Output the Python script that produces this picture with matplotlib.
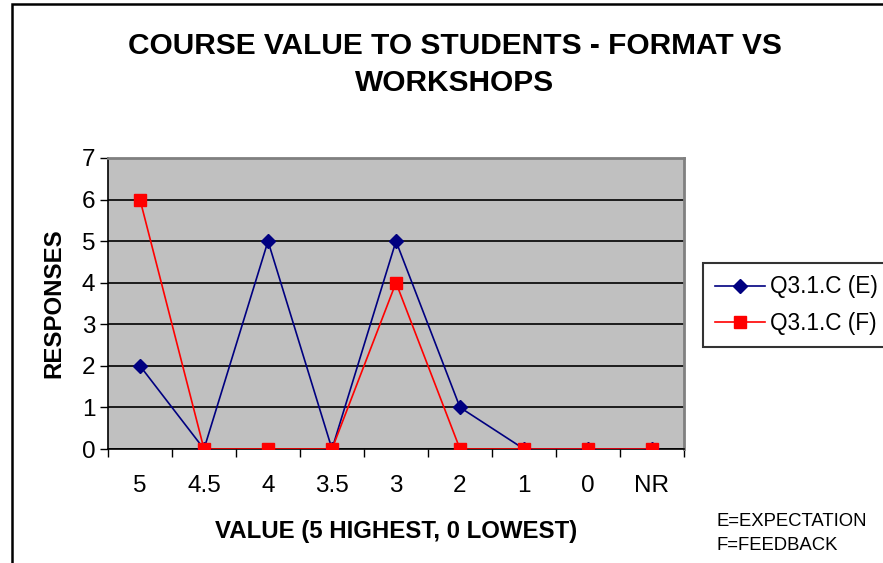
import matplotlib.pyplot as plt
from matplotlib.patches import Rectangle
import numpy as np

plt.rcParams['font.family'] = ['Liberation Sans', 'DejaVu Sans']

# data
categories = ["5", "4.5", "4", "3.5", "3", "2", "1", "0", "NR"]
expectation = [2, 0, 5, 0, 5, 1, 0, 0, 0]
feedback = [6, 0, 0, 0, 4, 0, 0, 0, 0]

x = np.arange(len(categories))

fig = plt.figure(figsize=(8.83, 5.63), dpi=100)

# outer chart frame (runs off the right and bottom edges like the original)
fig.patches.append(Rectangle((12 / 883, -0.1), 2.0, 1.1 - 4.5 / 563,
                             transform=fig.transFigure, fill=False,
                             edgecolor="black", linewidth=1.8))

ax = fig.add_axes([108 / 883, 1 - 449 / 563, 576 / 883, 291 / 563])
ax.set_facecolor("#C0C0C0")

ax.plot(x, expectation, color="#000080", marker="D", markersize=7.5,
        linewidth=1.2, label="Q3.1.C (E)", zorder=3)
ax.plot(x, feedback, color="#FF0000", marker="s", markersize=8,
        linewidth=1.2, label="Q3.1.C (F)", zorder=4)

ax.set_xlim(-0.5, len(categories) - 0.5)
ax.set_ylim(0, 7)
ax.set_yticks(range(0, 8))
ax.yaxis.grid(True, color="black", linewidth=1.2)
ax.set_axisbelow(True)

ax.set_xticks(x)
ax.set_xticklabels(categories)
ax.set_xticks(np.arange(-0.5, len(categories), 1), minor=True)
ax.tick_params(axis="x", which="major", length=0, pad=19, labelsize=17.5)
ax.tick_params(axis="x", which="minor", length=6, width=1, direction="out")
ax.tick_params(axis="y", length=6, width=1, direction="out", labelsize=17.5, pad=3)

for side in ["top", "right"]:
    ax.spines[side].set_color("#808080")
    ax.spines[side].set_linewidth(2)
for side in ["left", "bottom"]:
    ax.spines[side].set_color("black")
    ax.spines[side].set_linewidth(1.2)

ax.set_xlabel("VALUE (5 HIGHEST, 0 LOWEST)", fontsize=17.3, fontweight="bold", labelpad=16)
ax.set_ylabel("RESPONSES", fontsize=17.3, fontweight="bold", labelpad=12)

fig.text(455 / 883, 1 - 46 / 563, "COURSE VALUE TO STUDENTS - FORMAT VS",
         fontsize=21.5, fontweight="bold", ha="center", va="center")
fig.text(455 / 883, 1 - 83 / 563, "WORKSHOPS",
         fontsize=21.5, fontweight="bold", ha="center", va="center")

leg = fig.legend(loc="upper left", bbox_to_anchor=(703 / 883, 1 - 263 / 563),
                 fontsize=16.3, frameon=True, fancybox=False, handlelength=2.2,
                 borderpad=0.55, labelspacing=0.6, handletextpad=0.2,
                 borderaxespad=0)
leg.get_frame().set_edgecolor("black")
leg.get_frame().set_linewidth(1.5)

fig.text(716 / 883, 1 - 521 / 563, "E=EXPECTATION", fontsize=13.3, va="center")
fig.text(716 / 883, 1 - 546 / 563, "F=FEEDBACK", fontsize=13.3, va="center")

plt.savefig("out.png", dpi=100)
plt.close()
